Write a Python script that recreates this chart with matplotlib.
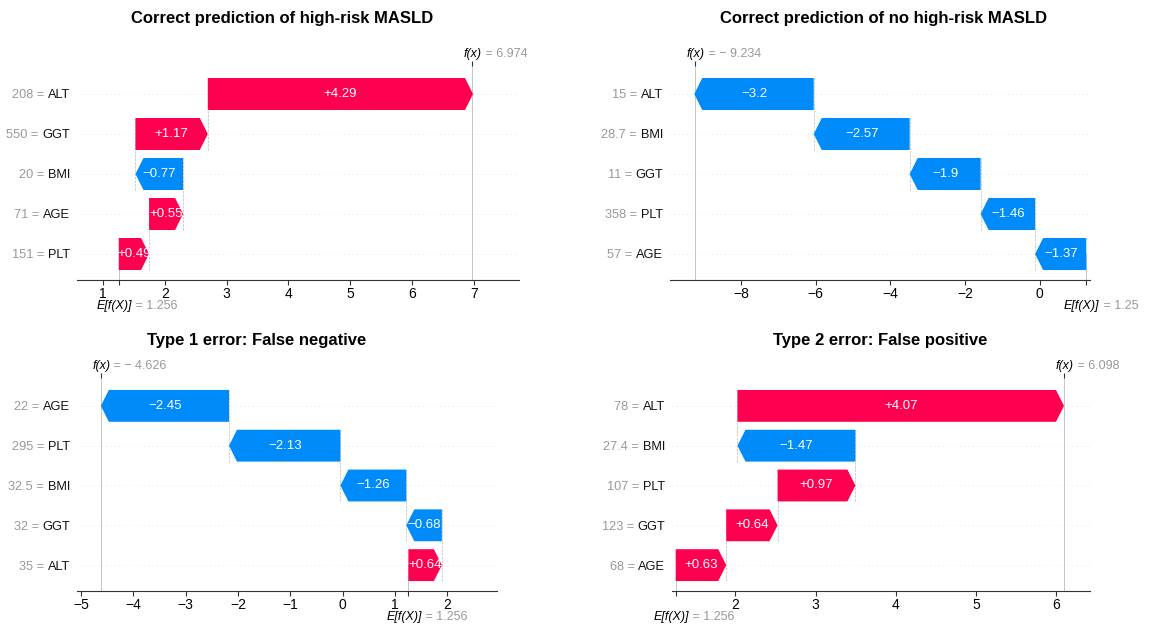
import matplotlib.pyplot as plt

plt.rcParams['font.family'] = ['Liberation Sans', 'DejaVu Sans']

RED = '#ff0051'
BLUE = '#008bfb'
GRAY = '#999999'

W, H = 1158, 624

titles = ['Correct prediction of high-risk MASLD',
          'Correct prediction of no high-risk MASLD',
          'Type 1 error: False negative',
          'Type 2 error: False positive']

# rows listed top to bottom
names_1 = ['ALT', 'GGT', 'BMI', 'AGE', 'PLT']
feat_1 = ['208', '550', '20', '71', '151']
shap_1 = [4.29, 1.17, -0.77, 0.55, 0.49]
base_1 = 1.256
fx_1 = 6.974

names_2 = ['ALT', 'BMI', 'GGT', 'PLT', 'AGE']
feat_2 = ['15', '28.7', '11', '358', '57']
shap_2 = [-3.2, -2.57, -1.9, -1.46, -1.37]
base_2 = 1.25
fx_2 = -9.234

names_3 = ['AGE', 'PLT', 'BMI', 'GGT', 'ALT']
feat_3 = ['22', '295', '32.5', '32', '35']
shap_3 = [-2.45, -2.13, -1.26, -0.68, 0.64]
base_3 = 1.256
fx_3 = -4.626

names_4 = ['ALT', 'BMI', 'PLT', 'GGT', 'AGE']
feat_4 = ['78', '27.4', '107', '123', '68']
shap_4 = [4.07, -1.47, 0.97, 0.64, 0.63]
base_4 = 1.256
fx_4 = 6.098


def fmt_shap(v):
    s = f'{v:+.2f}'.rstrip('0').rstrip('.')
    return s.replace('-', '\u2212')


def fmt_num(v):
    s = f'{abs(v):.3f}'.rstrip('0').rstrip('.')
    return ('\u2212 ' + s) if v < 0 else s


def waterfall(rect, xlim, ticks, title, title_xy, names, feats, shap, base, fx):
    l, r, t, b = rect
    ax = fig.add_axes([l / W, 1 - b / H, (r - l) / W, (b - t) / H])
    n = len(names)
    ax.set_xlim(xlim)
    ax.set_ylim(n - 0.35, -0.7)
    hl = 8 / (r - l) * (xlim[1] - xlim[0])

    for i in range(n):
        ax.axhline(i, color='#cccccc', lw=0.5, dashes=(1, 5), zorder=-1)

    left = base
    for i in range(n - 1, -1, -1):
        v = shap[i]
        c = RED if v > 0 else BLUE
        ax.arrow(left, i, v, 0, width=0.8, head_width=0.8,
                 head_length=min(hl, abs(v)), length_includes_head=True,
                 color=c, lw=0)
        ax.text(left + v / 2, i, fmt_shap(v), color='white', ha='center',
                va='center', fontsize=9.5)
        if i > 0:
            ax.plot([left + v, left + v], [i + 0.4, i - 1.4], color='#bbbbbb',
                    lw=0.5, ls='--', zorder=-1)
        left += v

    ylo, yhi = ax.get_ylim()
    ax.axvline(fx, 0, 1, color='#bbbbbb', lw=0.6, zorder=-1)
    ax.axvline(base, 0, (ylo - (n - 1)) / (ylo - yhi), color='#bbbbbb', lw=0.6, zorder=-1)

    # black feature name as tick label, grey "value =" just left of it
    ax.set_yticks(range(n), labels=names, fontsize=9.2, color='#111111')
    ax.tick_params(axis='y', length=0, pad=5)
    for f, tl in zip(feats, ax.get_yticklabels()):
        ax.annotate(f + ' = ', xy=(0, 0.5), xycoords=tl, ha='right',
                    va='center', color=GRAY, fontsize=9.2)

    ax.set_xticks(ticks, labels=[str(x).replace('-', '\u2212') for x in ticks])
    ax.set_xticks([base], minor=True)
    ax.tick_params(axis='x', which='both', length=3.5, width=0.8,
                   color='#333333', labelsize=10, pad=1.5)
    for s in ['top', 'left', 'right']:
        ax.spines[s].set_visible(False)
    ax.spines['bottom'].set_color('#333333')

    top = ax.secondary_xaxis('top')
    top.set_xticks([fx], labels=[''])
    top.tick_params(length=3.5, width=0.8, color='#333333')
    top.spines['top'].set_visible(False)

    tf = ax.annotate('f(x)', xy=(fx, 1), xycoords=('data', 'axes fraction'),
                     xytext=(-6, 8.5), textcoords='offset points', ha='left',
                     va='center', style='italic', fontsize=9)
    ax.annotate(' = ' + fmt_num(fx), xy=(1, 0.5), xycoords=tf, ha='left',
                va='center', color=GRAY, fontsize=9)
    te = ax.annotate('E[f(X)]', xy=(base, 0), xycoords=('data', 'axes fraction'),
                     xytext=(-16, -19), textcoords='offset points', ha='left',
                     va='center', style='italic', fontsize=9)
    ax.annotate(' = ' + fmt_num(base), xy=(1, 0.5), xycoords=te, ha='left',
                va='center', color=GRAY, fontsize=9)

    fig.text(title_xy[0] / W, 1 - title_xy[1] / H, title, ha='center',
             va='center', fontsize=12, fontweight='bold')
    return ax


fig = plt.figure(figsize=(W / 100, H / 100), dpi=100)

waterfall((77, 519, 66, 280), (0.58, 7.73), [1, 2, 3, 4, 5, 6, 7], titles[0], (282, 18),
          names_1, feat_1, shap_1, base_1, fx_1)
waterfall((670, 1090, 66, 280), (-9.9, 1.35), [-8, -6, -4, -2, 0], titles[1], (884, 18),
          names_2, feat_2, shap_2, base_2, fx_2)
waterfall((77, 497, 378, 591), (-5.08, 2.95), [-5, -4, -3, -2, -1, 0, 1, 2], titles[2], (257, 341),
          names_3, feat_3, shap_3, base_3, fx_3)
waterfall((672, 1090, 378, 591), (1.21, 6.42), [2, 3, 4, 5, 6], titles[3], (880, 341),
          names_4, feat_4, shap_4, base_4, fx_4)

fig.savefig('out.png', dpi=100)
